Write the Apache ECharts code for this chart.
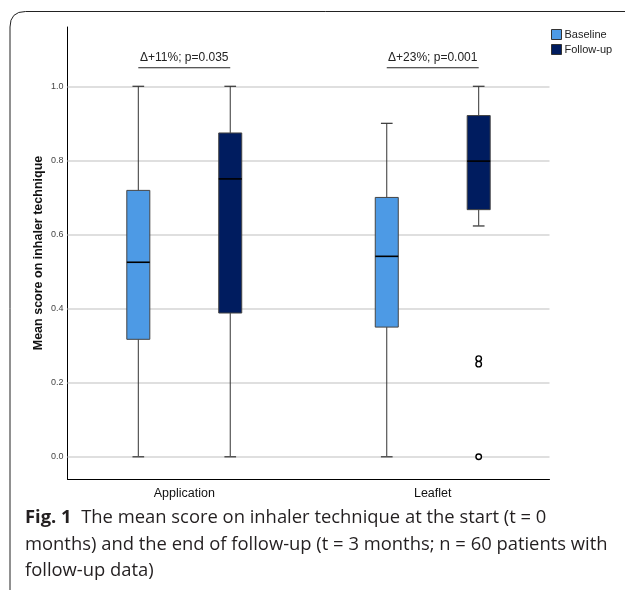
<!DOCTYPE html>
<html>
<head>
<meta charset="utf-8">
<script src="https://cdn.jsdelivr.net/npm/echarts@6/dist/echarts.min.js"></script>
<style>
html,body{margin:0;padding:0;background:#fff;}
#chart{width:625px;height:590px;}
</style>
</head>
<body>
<div id="chart"></div>
<script>
// ---- data ----
const categories = ['Application', 'Leaflet'];
const seriesNames = ['Baseline', 'Follow-up'];
// [min, Q1, median, Q3, max] per category
const baselineBoxes = [
  [0.0, 0.317, 0.525, 0.719, 1.0],
  [0.0, 0.350, 0.541, 0.700, 0.900]
];
const followupBoxes = [
  [0.0, 0.388, 0.750, 0.874, 1.0],
  [0.623, 0.667, 0.798, 0.921, 1.0]
];
// outliers of the follow-up group: [category index, value]
const followupOutliers = [
  [1, 0.0],
  [1, 0.250],
  [1, 0.265]
];
const yTicks = [0.0, 0.2, 0.4, 0.6, 0.8, 1.0];
const annotationLabels = ['\u0394+11%; p=0.035', '\u0394+23%; p=0.001'];
const annotationValue = 1.05;
const captionBold = 'Fig. 1';
const captionLines = [
  'The mean score on inhaler technique at the start (t = 0',
  'months) and the end of follow-up (t = 3 months; n = 60 patients with',
  'follow-up data)'
];

// ---- layout constants ----
const OFFSET = 0.185;   // horizontal offset of each box from its category centre
const BOX_W = 0.0926;   // box width in x units
const CAP_W = 0.047;    // whisker cap width in x units
const COLORS = ['#4d9ae5', '#001c5f'];
const FONT = '"Liberation Sans", Arial, sans-serif';
const CAP_FONT = '"Open Sans", sans-serif';
const CAP_SIZE = 18.4;

function boxRows(boxes, sign) {
  return boxes.map((b, i) => [i + sign * OFFSET].concat(b));
}

function renderBox(params, api) {
  const x = api.value(0);
  const lo = api.coord([x, api.value(1)]);
  const q1 = api.coord([x, api.value(2)]);
  const md = api.coord([x, api.value(3)]);
  const q3 = api.coord([x, api.value(4)]);
  const hi = api.coord([x, api.value(5)]);
  const half = api.size([BOX_W, 0])[0] / 2;
  const cap = api.size([CAP_W, 0])[0] / 2;
  const cx = lo[0];
  const color = api.visual('color');
  const wStyle = { stroke: '#333', lineWidth: 1 };
  return {
    type: 'group',
    children: [
      { type: 'line', shape: { x1: cx, y1: lo[1], x2: cx, y2: q1[1] }, style: wStyle },
      { type: 'line', shape: { x1: cx, y1: q3[1], x2: cx, y2: hi[1] }, style: wStyle },
      { type: 'line', shape: { x1: cx - cap, y1: lo[1], x2: cx + cap, y2: lo[1] }, style: { stroke: '#555', lineWidth: 1.5 } },
      { type: 'line', shape: { x1: cx - cap, y1: hi[1], x2: cx + cap, y2: hi[1] }, style: { stroke: '#333', lineWidth: 1.2 } },
      { type: 'rect', shape: { x: cx - half, y: q3[1], width: half * 2, height: q1[1] - q3[1] },
        style: { fill: color, stroke: '#444', lineWidth: 1 } },
      { type: 'line', shape: { x1: cx - half, y1: md[1], x2: cx + half, y2: md[1] },
        style: { stroke: '#000', lineWidth: 1.6 } }
    ]
  };
}

const annotationRows = categories.map((c, i) => [i - OFFSET, i + OFFSET, annotationValue, i]);

function renderAnnotation(params, api) {
  const a = api.coord([api.value(0), api.value(2)]);
  const b = api.coord([api.value(1), api.value(2)]);
  const label = annotationLabels[api.value(3)];
  return {
    type: 'group',
    children: [
      { type: 'line', shape: { x1: a[0], y1: a[1], x2: b[0], y2: b[1] }, style: { stroke: '#222', lineWidth: 1 } },
      { type: 'text', x: (a[0] + b[0]) / 2, y: a[1] - 10,
        style: { text: label, fill: '#222', font: '12px ' + FONT, align: 'center', verticalAlign: 'middle' } }
    ]
  };
}

const chart = echarts.init(document.getElementById('chart'));
const near = (v, t) => Math.abs(v - t) < 1e-6;

const option = {
  animation: false,
  backgroundColor: '#fff',
  grid: { left: 67.5, right: 75.5, top: 27, bottom: 111, containLabel: false },
  legend: {
    data: seriesNames.map((n, i) => ({ name: n, itemStyle: { color: COLORS[i], borderColor: '#333', borderWidth: 1 } })),
    orient: 'vertical', left: 551, top: 29, padding: 0, itemGap: 4,
    itemWidth: 10, itemHeight: 10, icon: 'rect',
    textStyle: { fontFamily: FONT, fontSize: 11, color: '#222', padding: [0, 0, 0, -2] },
    selectedMode: false
  },
  xAxis: {
    type: 'value', min: -0.47, max: 1.47, interval: 0.01,
    axisLine: { show: true, onZero: false, lineStyle: { color: '#000', width: 1 } },
    axisTick: { show: false },
    splitLine: { show: false },
    axisLabel: {
      margin: 8, fontFamily: FONT, fontSize: 12.5, color: '#111',
      formatter: v => { for (let i = 0; i < categories.length; i++) { if (near(v, i)) return categories[i]; } return ''; }
    }
  },
  yAxis: {
    type: 'value', min: -0.06, max: 1.16, interval: 0.02,
    name: 'Mean score on inhaler technique', nameLocation: 'middle', nameGap: 22,
    nameMoveOverlap: false,
    nameTextStyle: { fontFamily: FONT, fontSize: 12.5, fontWeight: 'bold', color: '#111' },
    axisLine: { show: true, onZero: false, lineStyle: { color: '#000', width: 1 } },
    axisTick: { show: false },
    splitLine: { show: false },
    axisLabel: {
      margin: 4, fontFamily: FONT, fontSize: 9, color: '#444',
      formatter: v => { for (const t of yTicks) { if (near(v, t)) return t.toFixed(1); } return ''; }
    }
  },
  series: [
    {
      type: 'line', name: 'grid', data: [], silent: true, z: 1, zlevel: 0,
      markLine: {
        z: 1,
        silent: true, symbol: ['none', 'none'], label: { show: false },
        lineStyle: { color: '#d4d4d4', width: 1.5, type: 'solid' },
        data: yTicks.map(t => ({ yAxis: t })),
        animation: false
      }
    },
    {
      type: 'custom', name: seriesNames[0], renderItem: renderBox, z: 10,
      itemStyle: { color: COLORS[0] },
      data: boxRows(baselineBoxes, -1), encode: { x: 0, y: [1, 2, 3, 4, 5] }, clip: false
    },
    {
      type: 'custom', name: seriesNames[1], renderItem: renderBox, z: 10,
      itemStyle: { color: COLORS[1] },
      data: boxRows(followupBoxes, 1), encode: { x: 0, y: [1, 2, 3, 4, 5] }, clip: false
    },
    {
      type: 'scatter', name: 'outliers', z: 11, symbol: 'circle', symbolSize: 5.5,
      itemStyle: { color: '#fff', borderColor: '#000', borderWidth: 1.4, opacity: 1 },
      data: followupOutliers.map(o => [o[0] + OFFSET, o[1]])
    },
    {
      type: 'custom', name: 'annotations', renderItem: renderAnnotation, z: 10, clip: false,
      data: annotationRows, encode: { x: [0, 1], y: 2 }
    }
  ],
  graphic: [
    { type: 'line', silent: true, shape: { x1: 10, y1: 590, x2: 10, y2: 27 }, style: { stroke: '#222', lineWidth: 1 } },
    { type: 'bezierCurve', silent: true, shape: { x1: 10, y1: 27, cpx1: 10, cpy1: 11.5, x2: 25.5, y2: 11.5 }, style: { fill: 'none', stroke: '#222', lineWidth: 1 } },
    { type: 'line', silent: true, shape: { x1: 25.5, y1: 11.5, x2: 625, y2: 11.5 }, style: { stroke: '#222', lineWidth: 1 } },
    {
      type: 'text', left: 25, top: 509,
      style: {
        text: '{b|' + captionBold + '}  ' + captionLines[0],
        font: CAP_SIZE + 'px ' + CAP_FONT, fill: '#231f20',
        rich: { b: { fontFamily: CAP_FONT, fontWeight: 'bold', fontSize: CAP_SIZE, fill: '#231f20' } }
      }
    },
    { type: 'text', left: 25, top: 536, style: { text: captionLines[1], font: CAP_SIZE + 'px ' + CAP_FONT, fill: '#231f20' } },
    { type: 'text', left: 25, top: 562, style: { text: captionLines[2], font: CAP_SIZE + 'px ' + CAP_FONT, fill: '#231f20' } }
  ]
};
chart.setOption(option);
</script>
</body>
</html>
